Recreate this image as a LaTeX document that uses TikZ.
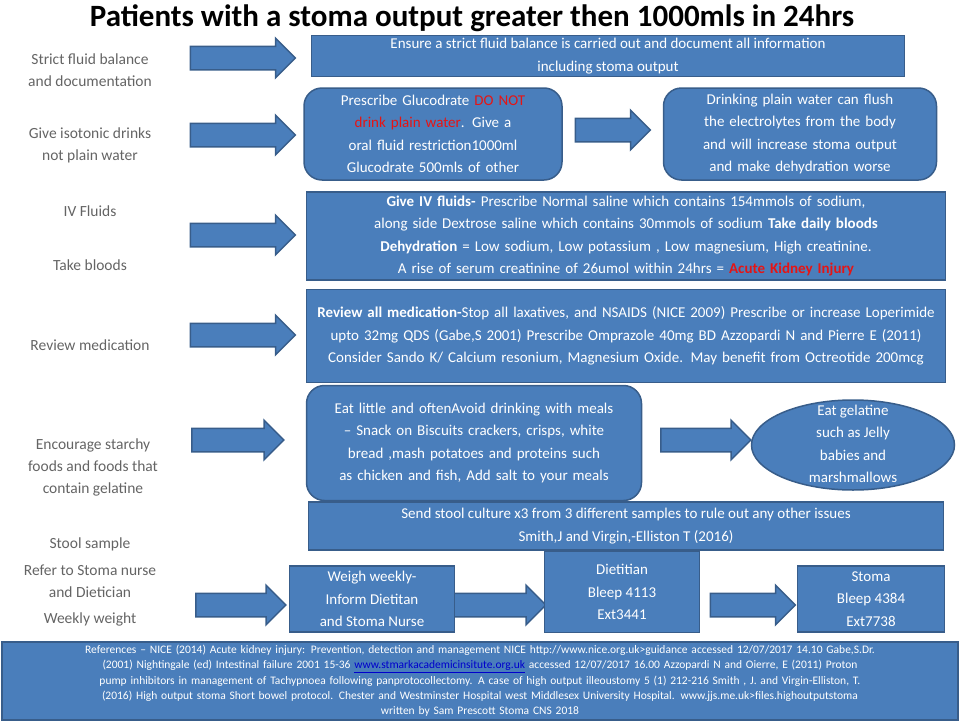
\documentclass[tikz,border=0pt]{standalone}
\usepackage{fontspec}
\setmainfont{Carlito}
\usetikzlibrary{shapes.arrows,shapes.geometric}
\hyphenpenalty=10000
\exhyphenpenalty=10000
\definecolor{boxblue}{RGB}{74,126,187}
\definecolor{boxline}{RGB}{56,93,138}
\definecolor{labgray}{RGB}{100,100,100}
\definecolor{alert}{RGB}{230,20,20}
\begin{document}
\begin{tikzpicture}[x=1pt,y=-1pt,
  lab/.style={align=center,text=labgray,font=\fontsize{15.5}{22}\selectfont},
  infobox/.style={draw=boxline,line width=1.5pt,fill=boxblue,text=white,align=center,
     inner sep=2pt,font=\fontsize{15}{22.5}\selectfont},
  rbox/.style={infobox,rounded corners=18pt},
  boxtext/.style={text=white,align=center,font=\fontsize{15}{22.5}\selectfont},
  bigarrow/.style={single arrow,draw=boxline,line width=1.5pt,fill=boxblue,
     single arrow head extend=8pt,minimum height=#1,inner sep=11pt}]
\useasboundingbox (0,0) rectangle (960,720);
% title
\node (title) at (472,18) {\fontsize{31}{33}\selectfont\bfseries Patients with a stoma output greater then 1000mls in 24hrs};
% left labels
\node[lab] (l1) at (90,70) {Strict fluid balance\\and documentation};
\node[lab] (l2) at (90,145) {Give isotonic drinks\\not plain water};
\node[lab] (l3) at (90,211) {IV Fluids};
\node[lab] (l4) at (90,265) {Take bloods};
\node[lab] (l5) at (90,345) {Review medication};
\node[lab] (l6) at (93,467) {Encourage starchy\\foods  and foods that\\contain gelatine};
\node[lab] (l7) at (90,544) {Stool sample};
\node[lab] (l8) at (90,581) {Refer to Stoma nurse\\and  Dietician};
\node[lab] (l9) at (90,619) {Weekly weight};
% arrows
\node[bigarrow=105pt] (a1) at (237,58) {};
\node[bigarrow=105pt] (a2) at (237,135) {};
\node[bigarrow=105pt] (a3) at (237,235) {};
\node[bigarrow=105pt] (a4) at (237,335) {};
\node[bigarrow=92pt] (a5) at (232,440) {};
\node[bigarrow=90pt] (a6) at (235,605) {};
\node[bigarrow=75pt] (a7) at (607,130) {};
\node[bigarrow=90pt] (a8) at (700,440) {};
\node[bigarrow=100pt] (a9) at (490,605) {};
\node[bigarrow=85pt] (a10) at (747,605) {};
% boxes
\node[infobox,minimum width=593pt,minimum height=41pt] (b1) at (608,56)
  {Ensure a strict fluid balance is carried out and document all information\\including stoma output};
\node[rbox,minimum width=258pt,minimum height=92pt,text width=245pt] (b2) at (433,134)
  {Prescribe Glucodrate  \textcolor{alert}{DO NOT drink plain water}. Give a oral fluid  restriction1000ml Glucodrate 500mls of other};
\node[rbox,minimum width=273pt,minimum height=92pt,text width=255pt] (b3) at (800,134)
  {Drinking plain water can flush the electrolytes from the body and will increase stoma output and make dehydration worse};
\node[infobox,minimum width=639pt,minimum height=88pt,text width=634pt] (b4) at (626,236)
  {\textbf{Give IV fluids-} Prescribe Normal saline which contains 154mmols of sodium, along side Dextrose saline which contains 30mmols of sodium  \textbf{Take daily bloods Dehydration} = Low sodium, Low potassium , Low magnesium, High creatinine. A rise of serum  creatinine   of 26umol within 24hrs  = \textcolor{alert}{\textbf{Acute Kidney Injury}}};
\node[infobox,minimum width=639pt,minimum height=93pt,text width=634pt] (b5) at (626,336)
  {\textbf{Review all medication-}Stop all laxatives, and NSAIDS  (NICE 2009) Prescribe or increase  Loperimide upto 32mg QDS (Gabe,S 2001) Prescribe Omprazole 40mg BD Azzopardi N and Pierre E (2011)  Consider Sando K/ Calcium resonium, Magnesium Oxide. May benefit from Octreotide 200mcg};
\node[rbox,minimum width=335pt,minimum height=115pt,text width=315pt] (b6) at (474,443)
  {Eat little  and oftenAvoid drinking with meals -- Snack on Biscuits crackers, crisps, white bread ,mash potatoes and proteins such as chicken and fish, Add salt to your meals};
\node[ellipse,draw=boxline,line width=1.5pt,fill=boxblue,minimum width=203pt,minimum height=90pt] (b7) at (853,445) {};
\node[boxtext] (b7t) at (853,444) {Eat gelatine\\such as Jelly\\babies and\\marshmallows};
\node[infobox,minimum width=635pt,minimum height=48pt] (b8) at (626,526)
  {Send stool culture x3 from 3 different  samples to rule out  any other issues\\Smith,J and Virgin,-Elliston  T (2016)};
\node[infobox,minimum width=165pt,minimum height=66pt] (b9) at (372,599)
  {Weigh weekly-\\Inform Dietitan\\and Stoma Nurse};
\node[infobox,minimum width=155pt,minimum height=81pt] (b10) at (622,592)
  {Dietitian\\Bleep 4113\\Ext3441};
\node[infobox,minimum width=147pt,minimum height=66pt] (b11) at (871,599)
  {Stoma\\Bleep 4384\\Ext7738};
\node[infobox,minimum width=956pt,minimum height=78pt,text width=940pt,inner sep=1pt,
  font=\fontsize{11.5}{15.2}\selectfont,anchor=north] (refs) at (480,641)
  {References -- NICE (2014)   Acute kidney injury: Prevention, detection and management NICE http://www.nice.org.uk>guidance accessed 12/07/2017 14.10 Gabe,S.Dr.  (2001) Nightingale (ed) Intestinal failure 2001 15-36 \textcolor{blue!80!black}{\underline{www.stmarkacademicinsitute.org.uk}}  accessed 12/07/2017 16.00  Azzopardi  N and Oierre, E (2011) Proton pump  inhibitors in management of Tachypnoea following panprotocollectomy. A case of high output  illeoustomy 5 (1) 212-216  Smith , J. and Virgin-Elliston, T. (2016) High output  stoma Short bowel protocol. Chester  and Westminster Hospital west Middlesex University Hospital. www.jjs.me.uk>files.highoutputstoma\\ written by Sam Prescott Stoma CNS 2018};
\end{tikzpicture}
\end{document}
